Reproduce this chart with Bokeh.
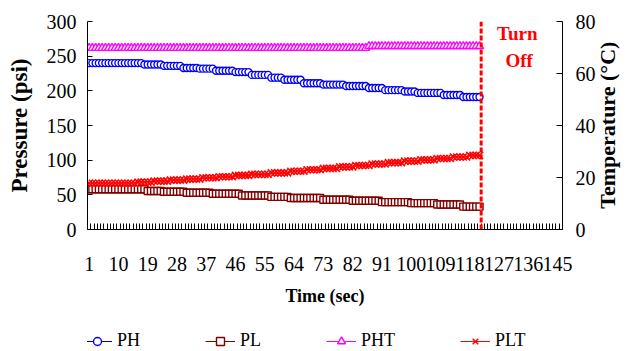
import math
from bokeh.plotting import figure
from bokeh.layouts import column
from bokeh.models import (Range1d, LinearAxis, FixedTicker, Span, Label, Legend,
                          LegendItem, ColumnDataSource)
from bokeh.embed import file_html
from bokeh.resources import INLINE

# ---------------- data ----------------
time_sec = list(range(1, 122))
x_tick_labels = list(range(1, 146, 9))
n_categories = 146
pressure_ticks = [0, 50, 100, 150, 200, 250, 300]
temp_ticks = [0, 20, 40, 60, 80]
turn_off_at = 121.5

PH = [
    240, 240, 240, 240, 240, 240, 240, 240, 240, 240, 240, 240, 240, 240, 240, 240, 240,
    238, 238, 238, 238, 238, 238,
    236, 236, 236, 236, 236, 236,
    233, 233, 233, 233, 233,
    232, 232, 232, 232, 232,
    229, 229, 229, 229, 229, 229,
    227, 227, 227, 227, 227,
    223, 223, 223, 223, 223, 223,
    219, 219, 219, 219,
    216, 216, 216, 216, 216, 216,
    211, 211, 211, 211, 211, 211,
    209, 209, 209, 209, 209, 209, 209,
    207, 207, 207, 207, 207, 207, 207,
    204, 204, 204, 204, 204,
    201, 201, 201, 201, 201, 201,
    199, 199, 199, 199,
    197, 197, 197, 197, 197, 197, 197, 197,
    194, 194, 194, 194, 194, 194,
    191, 191, 191, 191, 191, 191,
]

PL = [
    58, 58, 58, 58, 58, 58, 58, 58, 58, 58, 58, 58, 58, 58, 58, 58, 58, 58,
    55.5, 55.5, 55.5, 55.5, 55.5,
    54.5, 54.5, 54.5, 54.5, 54.5, 54.5, 54.5,
    53, 53, 53, 53, 53, 53, 53, 53,
    51.5, 51.5, 51.5, 51.5, 51.5, 51.5, 51.5, 51.5, 51.5,
    49, 49, 49, 49, 49, 49, 49, 49, 49,
    47, 47, 47, 47, 47, 47,
    45.5, 45.5, 45.5, 45.5, 45.5, 45.5, 45.5, 45.5, 45.5, 45.5,
    43, 43, 43, 43, 43, 43, 43, 43, 43,
    41.5, 41.5, 41.5, 41.5, 41.5, 41.5, 41.5, 41.5, 41.5,
    39.5, 39.5, 39.5, 39.5, 39.5, 39.5, 39.5, 39.5, 39.5,
    38, 38, 38, 38, 38, 38, 38, 38,
    36, 36, 36, 36, 36, 36, 36, 36,
    33, 33, 33, 33, 33, 33,
]

PHT = [
    69.8, 69.8, 69.8, 69.8, 69.8, 69.8, 69.8, 69.8, 69.8, 69.8,
    69.8, 69.8, 69.8, 69.8, 69.8, 69.8, 69.8, 69.8, 69.8, 69.8,
    69.8, 69.8, 69.8, 69.8, 69.8, 69.8, 69.8, 69.8, 69.8, 69.8,
    69.8, 69.8, 69.8, 69.8, 69.8, 69.8, 69.8, 69.8, 69.8, 69.8,
    69.8, 69.8, 69.8, 69.8, 69.8, 69.8, 69.8, 69.8, 69.8, 69.8,
    69.8, 69.8, 69.8, 69.8, 69.8, 69.8, 69.8, 69.8, 69.8, 69.8,
    69.8, 69.8, 69.8, 69.8, 69.8, 69.8, 69.8, 69.8, 69.8, 69.8,
    69.8, 69.8, 69.8, 69.8, 69.8, 69.8, 69.8, 69.8, 69.8, 69.8,
    69.8, 69.8, 69.8, 69.8, 69.8, 69.8,
    70.5, 70.5, 70.5, 70.5, 70.5, 70.5, 70.5, 70.5, 70.5, 70.5,
    70.5, 70.5, 70.5, 70.5, 70.5, 70.5, 70.5, 70.5, 70.5, 70.5,
    70.5, 70.5, 70.5, 70.5, 70.5, 70.5, 70.5, 70.5, 70.5, 70.5,
    70.5, 70.5, 70.5, 70.5, 70.5,
]

PLT = [
    17.8, 17.8, 17.8, 17.8, 17.8, 17.8, 17.8, 17.8, 17.8, 17.8, 17.8, 17.8, 17.8, 17.8, 17.8,
    18.2, 18.2, 18.2, 18.2, 18.2,
    18.6, 18.6, 18.6, 18.6, 18.6,
    19.0, 19.0, 19.0, 19.0, 19.0,
    19.4, 19.4, 19.4, 19.4, 19.4,
    19.9, 19.9, 19.9, 19.9, 19.9,
    20.3, 20.3, 20.3, 20.3, 20.3,
    20.8, 20.8, 20.8, 20.8, 20.8,
    21.2, 21.2, 21.2, 21.2, 21.2, 21.2,
    21.8, 21.8, 21.8, 21.8, 21.8, 21.8,
    22.4, 22.4, 22.4, 22.4, 22.4,
    23.0, 23.0, 23.0, 23.0, 23.0,
    23.5, 23.5, 23.5, 23.5, 23.5,
    24.1, 24.1, 24.1, 24.1, 24.1,
    24.6, 24.6, 24.6, 24.6, 24.6,
    25.2, 25.2, 25.2, 25.2, 25.2,
    25.7, 25.7, 25.7, 25.7, 25.7,
    26.3, 26.3, 26.3, 26.3, 26.3,
    26.8, 26.8, 26.8, 26.8, 26.8,
    27.3, 27.3, 27.3, 27.3, 27.3,
    27.9, 27.9, 27.9, 27.9, 27.9,
    28.5, 28.5, 28.5, 28.5,
]

# ---------------- styles ----------------
FONT = "Liberation Serif"
SERIES = [
    ("PH", dict(line_color="#0000CC"), dict(marker="circle", size=7, line_color="#0000FF", fill_color="white", line_width=1.4), None),
    ("PL", dict(line_color="#800000"), dict(marker="square", size=7, line_color="#800000", fill_color="white", line_width=1.4), None),
    ("PHT", dict(line_color="#FF00FF"), dict(marker="triangle", size=8, line_color="#FF00FF", fill_color="white", line_width=1.4), "temp"),
    ("PLT", dict(line_color="#FF0000"), dict(marker="x", size=10, line_color="#FF0000", line_width=1.5), "temp"),
]

# ---------------- main figure ----------------
p = figure(width=635, height=318, output_backend="svg", toolbar_location=None,
           x_range=Range1d(0.5, n_categories + 0.5), y_range=Range1d(0, 300),
           min_border_left=87, min_border_right=66, min_border_top=21,
           min_border_bottom=89)
p.extra_y_ranges = {"temp": Range1d(0, 80)}
p.xgrid.visible = False
p.ygrid.visible = False
p.outline_line_color = None
p.background_fill_color = "white"
p.border_fill_color = "white"

xa = p.xaxis[0]
xa.ticker = FixedTicker(ticks=x_tick_labels,
                        minor_ticks=[i + 0.5 for i in range(0, n_categories + 1)])
xa.major_tick_in = 0
xa.major_tick_out = 0
xa.minor_tick_in = 6
xa.minor_tick_out = 0
xa.minor_tick_line_color = "black"
xa.axis_line_color = "black"
xa.major_label_standoff = 27
xa.major_label_text_font = FONT
xa.major_label_text_font_size = "20px"
xa.major_label_text_color = "black"
xa.axis_label = "Time (sec)"
xa.axis_label_text_font = FONT
xa.axis_label_text_font_style = "bold"
xa.axis_label_text_font_size = "18px"
xa.axis_label_text_color = "black"
xa.axis_label_standoff = 12

ya = p.yaxis[0]
ya.ticker = FixedTicker(ticks=pressure_ticks)
ya.major_tick_in = 5
ya.major_tick_out = 0
ya.minor_tick_in = 0
ya.minor_tick_out = 0
ya.axis_line_color = "black"
ya.major_tick_line_color = "black"
ya.major_label_standoff = 11
ya.major_label_text_font = FONT
ya.major_label_text_font_size = "20px"
ya.major_label_text_color = "black"
ya.axis_label = "Pressure (psi)"
ya.axis_label_text_font = FONT
ya.axis_label_text_font_style = "bold"
ya.axis_label_text_font_size = "23px"
ya.axis_label_text_color = "black"
ya.axis_label_standoff = 12

ra = LinearAxis(y_range_name="temp", ticker=FixedTicker(ticks=temp_ticks))
ra.major_tick_in = 6
ra.major_tick_out = 0
ra.minor_tick_in = 0
ra.minor_tick_out = 0
ra.axis_line_color = "black"
ra.major_tick_line_color = "black"
ra.major_label_standoff = 13
ra.major_label_text_font = FONT
ra.major_label_text_font_size = "20px"
ra.major_label_text_color = "black"
p.add_layout(ra, "right")

# right-hand title, reading bottom-to-top like the left one
temp_title_at = 8
rt = LinearAxis(y_range_name="temp", ticker=FixedTicker(ticks=[temp_title_at]),
                major_label_overrides={temp_title_at: "Temperature (\u00b0C)"},
                major_label_orientation=math.pi / 2, axis_line_color=None,
                major_tick_line_color=None, minor_tick_line_color=None,
                major_tick_in=0, major_tick_out=0, minor_tick_in=0, minor_tick_out=0,
                major_label_standoff=9, major_label_text_font=FONT,
                major_label_text_font_size="22px",
                major_label_text_font_style="bold",
                major_label_text_color="black")
p.add_layout(rt, "right")

src = ColumnDataSource(dict(t=time_sec, PH=PH, PL=PL, PHT=PHT, PLT=PLT))
for name, lkw, mkw, rng in SERIES:
    extra = {} if rng is None else {"y_range_name": rng}
    p.line("t", name, source=src, line_width=1, **lkw, **extra)
    p.scatter("t", name, source=src, **mkw, **extra)

p.add_layout(Span(location=turn_off_at, dimension="height", line_color="red",
                  line_width=3, line_dash="5 2"))
p.add_layout(Label(x=132.6, y=283, text="Turn", text_align="center",
                   text_baseline="middle", text_font=FONT, text_font_size="19px",
                   text_font_style="bold", text_color="red"))
p.add_layout(Label(x=133.2, y=244, text="Off", text_align="center",
                   text_baseline="middle", text_font=FONT, text_font_size="19px",
                   text_font_style="bold", text_color="red"))

# ---------------- legend strip ----------------
# the same series, drawn outside this strip's visible ranges, so only the legend shows
lf = figure(width=635, height=33, output_backend="svg", toolbar_location=None,
            x_range=Range1d(-10, 0), y_range=Range1d(-10, 0),
            x_axis_type=None, y_axis_type=None,
            min_border_left=0, min_border_right=0, min_border_top=0,
            min_border_bottom=0)
lf.xgrid.visible = False
lf.ygrid.visible = False
lf.outline_line_color = None
lf.background_fill_color = "white"
lf.border_fill_color = "white"

items = []
for name, lkw, mkw, rng in SERIES:
    rl = lf.line("t", name, source=src, line_width=1, **lkw)
    rm = lf.scatter("t", name, source=src, **mkw)
    items.append(LegendItem(label=name, renderers=[rl, rm]))

legend = Legend(items=items, orientation="horizontal", location=(-5, 0),
                glyph_width=30, glyph_height=20, label_standoff=5, spacing=65,
                padding=0, margin=0, border_line_color=None,
                background_fill_alpha=0, label_text_font=FONT,
                label_text_font_size="18px", label_text_color="black")
lf.add_layout(legend)

open("out.html", "w").write(file_html(column(p, lf, spacing=0), INLINE))
